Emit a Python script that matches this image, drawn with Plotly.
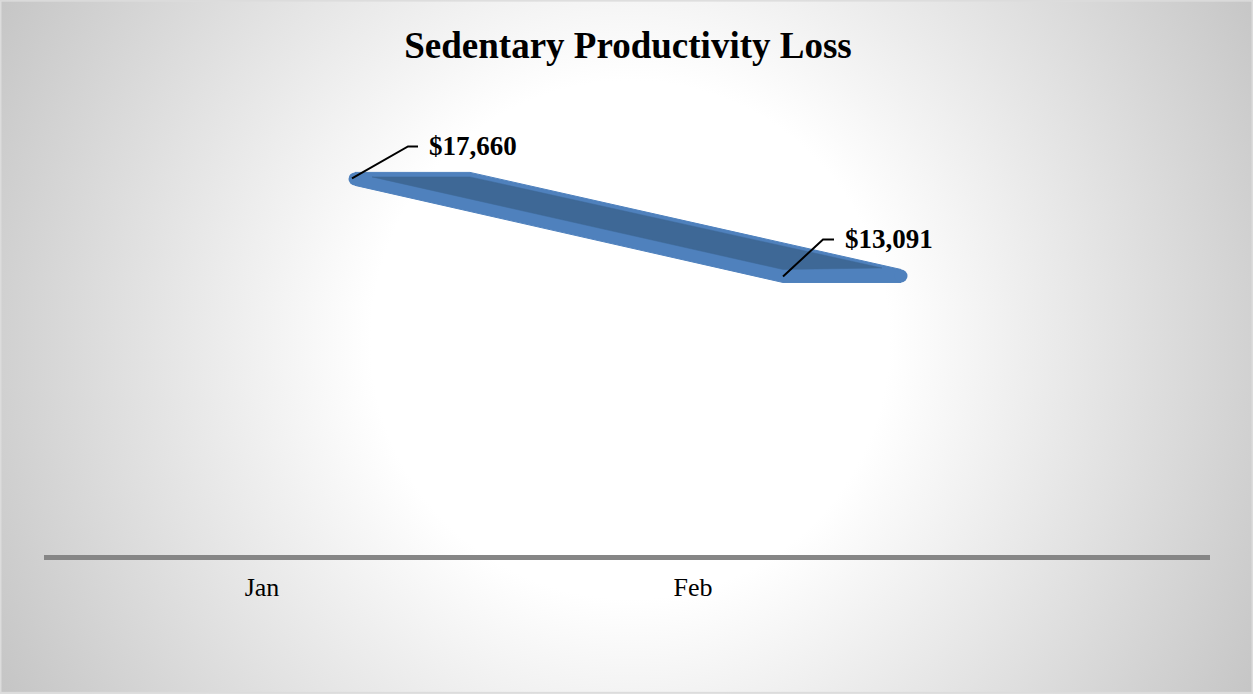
import base64
import plotly.graph_objects as go

# ---------------- data ----------------
categories = ["Jan", "Feb"]
values = [17660, 13091]
title_text = "Sedentary Productivity Loss"

# ---------------- style / layout constants ----------------
W, H = 1253, 694
M_L, M_R, M_T, M_B = 44, 43, 100, 138.5
PLOT_W = W - M_L - M_R
PLOT_H = H - M_T - M_B
X_RANGE = [-0.5058, 2.1995]
Y_RANGE = [116, 21312]
PX_PER_X = PLOT_W / (X_RANGE[1] - X_RANGE[0])
PX_PER_Y = PLOT_H / (Y_RANGE[1] - Y_RANGE[0])

FRONT_SHIFT_PX = 90      # perspective shift of the ribbon front edge
# 3-D ribbon extrusion, as pixel offsets (dx, dy-down) from the first / last data point
OUTER_SHAPE = [(0, 3, -6), (0, 118, -6), (1, 118, -7), (1, 118, 6), (1, 0, 6), (0, 3, 7)]
INNER_SHAPE = [(0, 20, -1.5), (0, 118, -1.5), (1, 99, -8.5), (1, 0, -7)]
END_CAPS = [(0, 3, 0.5), (1, 118, -0.5)]
LEADERS = [(56, 32, 10), (40, 37, 11)]   # (dx, dy-up, horizontal tail) in px
LABEL_GAP = 9

FONT = "Liberation Serif, Times New Roman, serif"
LIGHT = "#4F81BD"
DARK = "#3E6896"

idx = list(range(len(categories)))
fx = [i + FRONT_SHIFT_PX / PX_PER_X for i in idx]
fy = list(values)
ends = [0, len(values) - 1]


def offset_pts(shape):
    xs = [fx[ends[k]] + dx / PX_PER_X for k, dx, dy in shape]
    ys = [fy[ends[k]] - dy / PX_PER_Y for k, dx, dy in shape]
    return xs + xs[:1], ys + ys[:1]


fig = go.Figure()

ox, oy = offset_pts(OUTER_SHAPE)
fig.add_trace(go.Scatter(x=ox, y=oy, mode="lines", fill="toself", fillcolor=LIGHT,
                         line=dict(color=LIGHT, width=1), hoverinfo="skip", showlegend=False))
cx, cy = offset_pts(END_CAPS)
fig.add_trace(go.Scatter(x=cx[:-1], y=cy[:-1], mode="markers",
                         marker=dict(color=LIGHT, size=13, line=dict(width=0)),
                         hoverinfo="skip", showlegend=False))
ix, iy = offset_pts(INNER_SHAPE)
fig.add_trace(go.Scatter(x=ix, y=iy, mode="lines", fill="toself", fillcolor=DARK,
                         line=dict(color=DARK, width=0.5), hoverinfo="skip", showlegend=False))

# leader lines + labels
for i, (dx, dy, tail) in enumerate(LEADERS):
    fig.add_shape(type="path", xref="x", yref="y", xsizemode="pixel", ysizemode="pixel",
                  xanchor=fx[i], yanchor=fy[i],
                  path=f"M0,0 L{dx},{dy} L{dx + tail},{dy}",
                  line=dict(color="black", width=2))
    fig.add_annotation(x=fx[i], y=fy[i], text=f"<b>${values[i]:,}</b>", showarrow=False,
                       xanchor="left", yanchor="middle",
                       xshift=dx + tail + LABEL_GAP, yshift=dy,
                       font=dict(family=FONT, size=27, color="black"))

# background radial gradient (full figure)
svg = (f'<svg xmlns="http://www.w3.org/2000/svg" width="{W}" height="{H}">'
       '<defs><radialGradient id="g" gradientUnits="userSpaceOnUse" cx="630" cy="340" r="720">'
       '<stop offset="0" stop-color="#ffffff"/><stop offset="0.36" stop-color="#ffffff"/>'
       '<stop offset="1" stop-color="#c5c5c5"/></radialGradient></defs>'
       f'<rect width="{W}" height="{H}" fill="url(#g)"/>'
       f'<rect x="0.75" y="0.75" width="{W - 1.5}" height="{H - 1.5}" fill="none" stroke="#dcdcdc" stroke-width="1.5"/>'
       '</svg>')
src = "data:image/svg+xml;base64," + base64.b64encode(svg.encode()).decode()


def px2paper_x(p):
    return (p - M_L) / PLOT_W


def px2paper_y(p):
    return (H - M_B - p) / PLOT_H


fig.add_layout_image(dict(source=src, xref="paper", yref="paper",
                          x=px2paper_x(0), y=px2paper_y(0),
                          sizex=W / PLOT_W, sizey=H / PLOT_H,
                          xanchor="left", yanchor="top", sizing="stretch", layer="below"))

fig.update_layout(
    width=W, height=H,
    margin=dict(l=M_L, r=M_R, t=M_T, b=M_B, autoexpand=False),
    paper_bgcolor="#e0e0e0", plot_bgcolor="rgba(0,0,0,0)",
    title=dict(text=f"<b>{title_text}</b>", x=628 / W, xanchor="center",
               y=1 - 45 / H, yanchor="middle", yref="container",
               font=dict(family=FONT, size=37, color="black")),
    xaxis=dict(range=X_RANGE, tickvals=idx, ticktext=categories, showgrid=False,
               zeroline=False, showline=True, linecolor="#868686", linewidth=4.5,
               ticks="", ticklabelstandoff=5,
               tickfont=dict(family=FONT, size=26, color="black")),
    yaxis=dict(range=Y_RANGE, visible=False, showgrid=False, zeroline=False),
    hovermode=False,
    showlegend=False,
)

fig.write_html("out.html", config={"displayModeBar": False},
               post_script="document.body.style.margin='0';")
